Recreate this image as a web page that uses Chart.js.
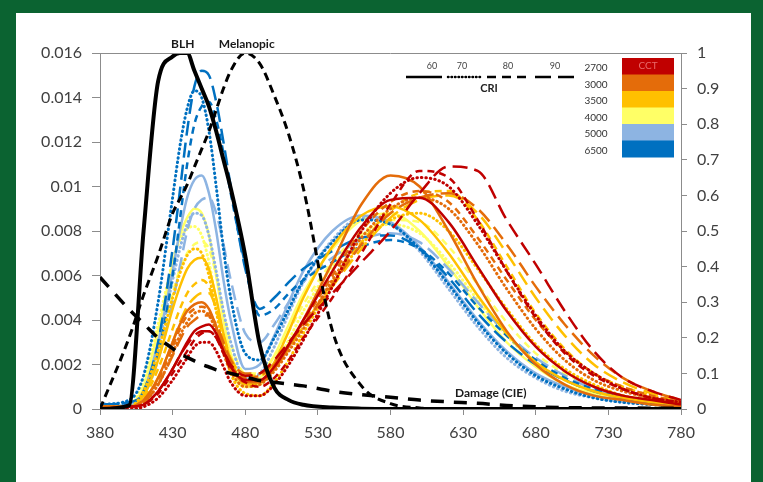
<!DOCTYPE html>
<html>
<head>
<meta charset="utf-8">
<script src="https://cdn.jsdelivr.net/npm/chart.js@4.4.1/dist/chart.umd.min.js"></script>
<style>
  body { margin: 0; width: 763px; height: 482px; overflow: hidden; position: relative; background: #0b6331; }
  #panel { position: absolute; left: 16px; top: 13px; width: 735px; height: 469px; background: #fff; }
  #myChart { position: absolute; left: 0; top: 0; }
</style>
</head>
<body>
<div id="panel"></div>
<canvas id="myChart" width="763" height="482"></canvas>
<script>
"use strict";

// WAVELENGTHS (nm) shared by every curve
const wavelengths = [380, 400, 410, 420, 430, 435, 440, 445, 450, 455, 460, 465, 470, 480, 490, 500, 510, 520, 540, 560, 580, 600, 620, 640, 660, 680, 700, 720, 740, 760, 780];
const xTicks = [380, 430, 480, 530, 580, 630, 680, 730, 780];

// ACTION SPECTRA (right axis, 0..1)
const blh = [0, .01, .50, .92, .99, 1, 1, .95, .90, .85, .78, .70, .62, .43, .18, .06, .025, .012, .004, .001, 0, 0, 0, 0, 0, 0, 0, 0, 0, 0, 0];
const melanopic = [0, .20, .32, .43, .55, .59, .63, .68, .73, .78, .84, .90, .95, 1, .97, .88, .77, .62, .22, .065, .015, .003, 0, 0, 0, 0, 0, 0, 0, 0, 0];
const damage = [.37, .28, .24, .20, .17, .155, .145, .135, .125, .118, .11, .105, .10, .09, .08, .075, .07, .065, .05, .04, .033, .025, .02, .016, .01, .006, .004, .003, .003, .002, .002];

// LED SPECTRA (left axis), named sCCT_CRI
const s6500_90 = [.0002, .0003, .0008, .0030, .0072, .0098, .0125, .0145, .0152, .0150, .0138, .0120, .0100, .0063, .0045, .0050, .0057, .0063, .0071, .0077, .0078, .0072, .0059, .0043, .0030, .0020, .0013, .0008, .0005, .0003, .0002];
const s6500_80 = [.0002, .0003, .0007, .0025, .0060, .0085, .0110, .0128, .0136, .0138, .0130, .0115, .0097, .0065, .0042, .0045, .0052, .0058, .0066, .0073, .0076, .0072, .0061, .0046, .0033, .0022, .0014, .0009, .0005, .0003, .0002];
const s6500_70 = [.0002, .0004, .0015, .0048, .0095, .0118, .0135, .0143, .0140, .0125, .0100, .0072, .0050, .0025, .0022, .0032, .0045, .0058, .0075, .0085, .0083, .0072, .0056, .0039, .0025, .0015, .0009, .0005, .0003, .0002, .0001];
const s5000_60 = [.0001, .0002, .0008, .0030, .0062, .0080, .0095, .0103, .0105, .0097, .0080, .0058, .0040, .0018, .0020, .0033, .0048, .0062, .0080, .0087, .0084, .0073, .0057, .0040, .0026, .0016, .0010, .0006, .0004, .0002, .0001];
const s5000_70 = [.0001, .0002, .0008, .0028, .0058, .0072, .0083, .0088, .0087, .0078, .0062, .0044, .0030, .0014, .0016, .0028, .0043, .0057, .0076, .0086, .0083, .0071, .0054, .0037, .0023, .0014, .0008, .0005, .0003, .0002, .0001];
const s5000_90 = [.0001, .0002, .0006, .0022, .0048, .0064, .0080, .0090, .0094, .0095, .0088, .0074, .0058, .0034, .0030, .0038, .0048, .0057, .0068, .0076, .0079, .0075, .0063, .0048, .0034, .0023, .0015, .0009, .0006, .0003, .0002];
const s4000_60 = [.0001, .0002, .0010, .0035, .0065, .0078, .0086, .0090, .0088, .0078, .0060, .0040, .0025, .0012, .0014, .0024, .0038, .0052, .0072, .0085, .0088, .0080, .0064, .0046, .0030, .0019, .0011, .0007, .0004, .0002, .0001];
const s4000_70 = [.0001, .0002, .0012, .0038, .0066, .0076, .0081, .0082, .0078, .0066, .0048, .0030, .0018, .0010, .0011, .0019, .0031, .0044, .0064, .0078, .0083, .0079, .0066, .0049, .0033, .0021, .0013, .0008, .0005, .0003, .0002];
const s4000_80 = [.0001, .0002, .0007, .0026, .0052, .0063, .0070, .0074, .0075, .0072, .0060, .0044, .0030, .0016, .0016, .0024, .0035, .0047, .0066, .0079, .0085, .0084, .0073, .0056, .0039, .0025, .0016, .0010, .0006, .0004, .0002];
const s3500_60 = [.0001, .0001, .0006, .0022, .0045, .0055, .0063, .0067, .0068, .0063, .0050, .0034, .0022, .0011, .0012, .0021, .0035, .0050, .0073, .0087, .0091, .0085, .0070, .0051, .0034, .0021, .0013, .0008, .0005, .0003, .0002];
const s3500_70 = [.0001, .0001, .0008, .0026, .0050, .0061, .0069, .0072, .0070, .0060, .0044, .0028, .0016, .0007, .0006, .0012, .0022, .0034, .0056, .0074, .0085, .0088, .0080, .0063, .0045, .0029, .0018, .0011, .0006, .0004, .0002];
const s3500_80 = [.0001, .0001, .0005, .0018, .0036, .0045, .0052, .0056, .0058, .0055, .0045, .0032, .0021, .0012, .0012, .0018, .0027, .0037, .0057, .0075, .0089, .0097, .0098, .0085, .0064, .0043, .0027, .0016, .0010, .0006, .0003];
const s3500_90 = [.0001, .0001, .0004, .0014, .0030, .0039, .0046, .0050, .0052, .0052, .0045, .0033, .0023, .0015, .0015, .0020, .0028, .0037, .0055, .0072, .0086, .0094, .0096, .0088, .0070, .0050, .0033, .0020, .0012, .0007, .0004];
const s3000_60 = [.0001, .0001, .0004, .0014, .0030, .0038, .0044, .0047, .0048, .0045, .0037, .0027, .0019, .0012, .0012, .0018, .0028, .0040, .0066, .0092, .0105, .0100, .0080, .0056, .0035, .0020, .0011, .0006, .0004, .0002, .0001];
const s3000_70 = [.0001, .0001, .0003, .0011, .0025, .0033, .0039, .0043, .0044, .0042, .0035, .0025, .0017, .0010, .0011, .0017, .0026, .0036, .0058, .0077, .0090, .0095, .0090, .0074, .0054, .0036, .0022, .0013, .0008, .0005, .0003];
const s3000_80 = [.0001, .0001, .0004, .0013, .0028, .0036, .0042, .0045, .0046, .0044, .0037, .0028, .0020, .0014, .0015, .0020, .0029, .0039, .0060, .0080, .0093, .0098, .0093, .0077, .0058, .0040, .0026, .0016, .0010, .0006, .0003];
const s3000_90 = [.0001, .0001, .0003, .0011, .0024, .0031, .0037, .0040, .0042, .0042, .0038, .0030, .0022, .0016, .0016, .0021, .0029, .0038, .0056, .0074, .0088, .0095, .0097, .0090, .0074, .0055, .0038, .0024, .0014, .0008, .0004];
const s2700_60 = [0, .0001, .0002, .0008, .0018, .0024, .0030, .0035, .0037, .0038, .0034, .0026, .0019, .0013, .0013, .0019, .0029, .0040, .0062, .0082, .0094, .0095, .0084, .0064, .0044, .0028, .0017, .0010, .0006, .0004, .0002];
const s2700_70 = [0, 0, .0001, .0005, .0013, .0018, .0023, .0028, .0030, .0030, .0026, .0019, .0012, .0006, .0006, .0011, .0020, .0031, .0055, .0080, .0097, .0104, .0100, .0083, .0062, .0042, .0026, .0016, .0009, .0005, .0003];
const s2700_80 = [0, .0001, .0002, .0007, .0016, .0021, .0026, .0031, .0034, .0035, .0032, .0025, .0018, .0012, .0010, .0014, .0022, .0032, .0050, .0070, .0092, .0107, .0104, .0085, .0062, .0041, .0025, .0015, .0009, .0005, .0003];
const s2700_90 = [0, .0001, .0002, .0008, .0018, .0024, .0029, .0033, .0035, .0035, .0032, .0026, .0020, .0015, .0016, .0022, .0030, .0038, .0052, .0066, .0080, .0097, .0109, .0107, .0085, .0065, .0044, .0026, .0014, .0008, .0004];

// LEGEND
const cctLabels = ["2700", "3000", "3500", "4000", "5000", "6500"];
const criLabels = ["60", "70", "80", "90"];

// STYLES
const cctColors = { 2700: "#c00000", 3000: "#e46c0a", 3500: "#ffc000", 4000: "#ffff66", 5000: "#8db4e2", 6500: "#0070c0" };
const criDash = { 60: [], 70: [0.5, 4], 80: [7, 5], 90: [15, 7] };

const ledSeries = [
  [4000, 60, s4000_60], [4000, 70, s4000_70], [4000, 80, s4000_80],
  [5000, 60, s5000_60], [5000, 70, s5000_70], [5000, 90, s5000_90],
  [6500, 70, s6500_70], [6500, 80, s6500_80], [6500, 90, s6500_90],
  [3500, 60, s3500_60], [3500, 70, s3500_70], [3500, 80, s3500_80], [3500, 90, s3500_90],
  [3000, 60, s3000_60], [3000, 70, s3000_70], [3000, 80, s3000_80], [3000, 90, s3000_90],
  [2700, 60, s2700_60], [2700, 70, s2700_70], [2700, 80, s2700_80], [2700, 90, s2700_90],
];

const toPoints = (arr) => arr.map((v, i) => ({ x: wavelengths[i], y: v }));

const datasets = [
  { label: "BLH", data: toPoints(blh), yAxisID: "y1", borderColor: "#000", borderWidth: 4 },
  { label: "Melanopic", data: toPoints(melanopic), yAxisID: "y1", borderColor: "#000", borderWidth: 3, borderDash: [8, 5] },
  { label: "Damage (CIE)", data: toPoints(damage), yAxisID: "y1", borderColor: "#000", borderWidth: 3.5, borderDash: [13, 10] },
];
// later entries are drawn underneath, so reverse keeps reds on top of blues
ledSeries.slice().reverse().forEach(([cct, cri, arr]) => {
  datasets.push({
    label: `${cct} K / CRI ${cri}`,
    data: toPoints(arr),
    yAxisID: "y",
    borderColor: cctColors[cct],
    borderWidth: cri === 70 ? 3 : 2.5,
    borderDash: criDash[cri],
    borderCapStyle: cri === 70 ? "round" : "butt",
  });
});

// labels, legend and top border drawn by hand
const annotate = {
  id: "annotate",
  afterDatasetsDraw(chart) {
    const { ctx, chartArea: a, scales } = chart;
    ctx.save();
    ctx.strokeStyle = "#8c8c8c";
    ctx.lineWidth = 1;
    ctx.setLineDash([]);
    ctx.beginPath();
    ctx.moveTo(a.left, a.top + 0.5);
    ctx.lineTo(a.right, a.top + 0.5);
    ctx.stroke();

    ctx.fillStyle = "#1a1a1a";
    ctx.font = "bold 12px Lato";
    ctx.textAlign = "center";
    ctx.textBaseline = "middle";
    ctx.fillText("BLH", scales.x.getPixelForValue(437), a.top - 9);
    ctx.fillText("Melanopic", scales.x.getPixelForValue(481), a.top - 9);
    ctx.fillText("Damage (CIE)", scales.x.getPixelForValue(649), scales.y1.getPixelForValue(0.045));

    // CRI line samples
    const criX = [[406, 442], [448, 483], [487, 532], [535, 577]];
    const labelX = [432, 462, 508, 555];
    ctx.strokeStyle = "#000";
    ctx.lineWidth = 2.5;
    criLabels.forEach((c, i) => {
      ctx.setLineDash(c === "70" ? [0.5, 3] : c === "80" ? [9, 6] : c === "90" ? [16, 7] : []);
      ctx.lineCap = c === "70" ? "round" : "butt";
      ctx.beginPath();
      ctx.moveTo(criX[i][0], 77);
      ctx.lineTo(criX[i][1], 77);
      ctx.stroke();
      ctx.fillStyle = "#444";
      ctx.font = "9px Lato";
      ctx.fillText(c, labelX[i], 66);
    });
    ctx.setLineDash([]);
    ctx.fillStyle = "#222";
    ctx.font = "bold 11px Lato";
    ctx.fillText("CRI", 489, 88);

    // CCT colour boxes
    const boxH = 16.5;
    cctLabels.forEach((c, i) => {
      ctx.fillStyle = cctColors[c];
      ctx.fillRect(622, 58 + i * boxH, 52, boxH + 0.5);
      ctx.fillStyle = "#333";
      ctx.font = "10px Lato";
      ctx.fillText(c, 596, 68 + i * boxH);
    });
    ctx.fillStyle = "#e86a6a";
    ctx.font = "10px Lato";
    ctx.fillText("CCT", 648, 66);
    ctx.restore();
  },
};

const axisColor = "#8c8c8c";
const tickFont = { family: "Lato", size: 16 };

const config = {
  type: "line",
  data: { datasets: datasets },
  options: {
    responsive: false,
    animation: false,
    devicePixelRatio: 1,
    layout: { padding: { top: 53 } },
    elements: { point: { radius: 0 }, line: { cubicInterpolationMode: "monotone" } },
    plugins: { legend: { display: false }, tooltip: { enabled: false } },
    scales: {
      x: {
        type: "linear",
        min: 380,
        max: 780,
        afterBuildTicks: (scale) => { scale.ticks = xTicks.map((v) => ({ value: v })); },
        afterFit: (scale) => { scale.height = 73; },
        grid: { drawOnChartArea: false, tickLength: 6, color: axisColor },
        border: { color: axisColor },
        ticks: { font: tickFont, color: "#404040", padding: 8, maxRotation: 0 },
      },
      y: {
        position: "left",
        min: 0,
        max: 0.016,
        afterFit: (scale) => { scale.width = 100; },
        grid: { drawOnChartArea: false, tickLength: 8, color: axisColor },
        border: { color: axisColor },
        ticks: { stepSize: 0.002, font: tickFont, color: "#404040", padding: 10, callback: (v) => String(Number(v.toFixed(3))) },
      },
      y1: {
        position: "right",
        min: 0,
        max: 1,
        afterFit: (scale) => { scale.width = 82; },
        grid: { drawOnChartArea: false, tickLength: 6, color: axisColor },
        border: { color: axisColor },
        ticks: { stepSize: 0.1, font: tickFont, color: "#404040", padding: 10, callback: (v) => String(Number(v.toFixed(1))) },
      },
    },
  },
  plugins: [annotate],
};

const myChart = new Chart(document.getElementById("myChart"), config);
</script>
</body>
</html>
